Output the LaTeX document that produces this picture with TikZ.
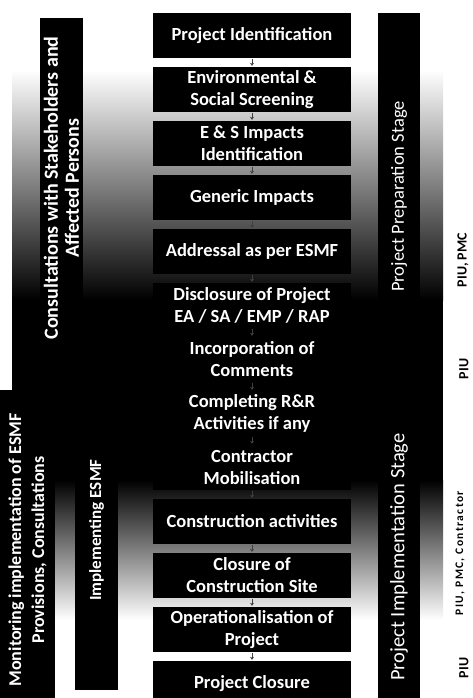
\documentclass[tikz,border=0pt]{standalone}
\usepackage{fontspec}
\setsansfont{Carlito}
\usetikzlibrary{positioning,arrows.meta}

\tikzset{
  stepbox/.style={rectangle, fill=black, text=white, minimum width=198pt,
    minimum height=45pt, inner sep=1pt, align=center,
    font=\sffamily\bfseries\fontsize{18.5}{22}\selectfont},
  sidebar/.style={rectangle, fill=black, text=white, rotate=90, align=center,
    inner sep=0pt, font=\sffamily\bfseries\fontsize{20}{21}\selectfont},
  stagebar/.style={sidebar, font=\sffamily\fontsize{18.5}{21}\selectfont},
  agency/.style={rotate=90, inner sep=0pt, font=\sffamily\bfseries\fontsize{14}{16}\selectfont},
  link/.style={-{Stealth[length=3pt,width=4pt]}, black!75, line width=0.6pt, shorten >=1pt, shorten <=1pt}
}

\begin{document}
\begin{tikzpicture}[x=1pt,y=-1pt,node distance=54pt,on grid]
   \useasboundingbox (0,0) rectangle (473,698);

   % faded background behind the columns
   \shade[top color=white, bottom color=black] (12,70) rectangle (443,300);
   \fill[black] (12,300) rectangle (443,480);
   \shade[top color=black, bottom color=white] (12,480) rectangle (443,620);

   % process steps
   \node[stepbox] (s1) at (252,35.5) {Project Identification};
   \node[stepbox] (s2) [below=of s1] {Environmental \&\\Social Screening};
   \node[stepbox] (s3) [below=of s2] {E \& S Impacts\\Identification};
   \node[stepbox] (s4) [below=of s3] {Generic Impacts};
   \node[stepbox] (s5) [below=of s4] {Addressal as per ESMF};
   \node[stepbox] (s6) [below=of s5] {Disclosure of Project\\EA / SA / EMP / RAP};
   \node[stepbox] (s7) [below=of s6] {Incorporation of\\Comments};
   \node[stepbox] (s8) [below=of s7] {Completing R\&R\\Activities if any};
   \node[stepbox] (s9) [below=of s8] {Contractor\\Mobilisation};
   \node[stepbox] (s10) [below=of s9] {Construction activities};
   \node[stepbox] (s11) [below=of s10] {Closure of\\Construction Site};
   \node[stepbox] (s12) [below=of s11] {Operationalisation of\\Project};
   \node[stepbox] (s13) [below=of s12] {Project Closure};

   \foreach \i [evaluate=\i as \j using int(\i+1)] in {1,...,12}
     \draw[link] (s\i) -- (s\j);

   % consultation and monitoring bars
   \node[sidebar, minimum width=340pt, minimum height=43pt] (consult) at (61.5,188)
     {Consultations with Stakeholders and\\Affected Persons};
   \node[sidebar, minimum width=320pt, minimum height=55pt,
     font=\sffamily\bfseries\fontsize{18}{23}\selectfont] (monitor) at (27.5,550)
     {Monitoring implementation of ESMF\\Provisions, Consultations};
   \node[sidebar, minimum width=320pt, minimum height=43pt,
     font=\sffamily\bfseries\fontsize{17}{20}\selectfont] (implement) at (96.5,530)
     {Implementing ESMF};

   % stages
   \node[stagebar, minimum width=367pt, minimum height=42pt] (prep) at (399,196.5)
     {Project Preparation Stage};
   \node[stagebar, minimum width=325pt, minimum height=42pt,
     font=\sffamily\fontsize{20.5}{22}\selectfont] (impl) at (399,557)
     {Project Implementation Stage};

   % responsibilities
   \node[agency] (r1) at (463,260) {PIU, PMC};
   \node[agency] (r2) at (464,369) {PIU};
   \node[agency, font=\sffamily\bfseries\fontsize{11.5}{13}\selectfont\addfontfeature{LetterSpace=12}]
     (r3) at (460,553) {PIU, PMC, Contractor};
   \node[agency] (r4) at (464,668) {PIU};
\end{tikzpicture}
\end{document}
